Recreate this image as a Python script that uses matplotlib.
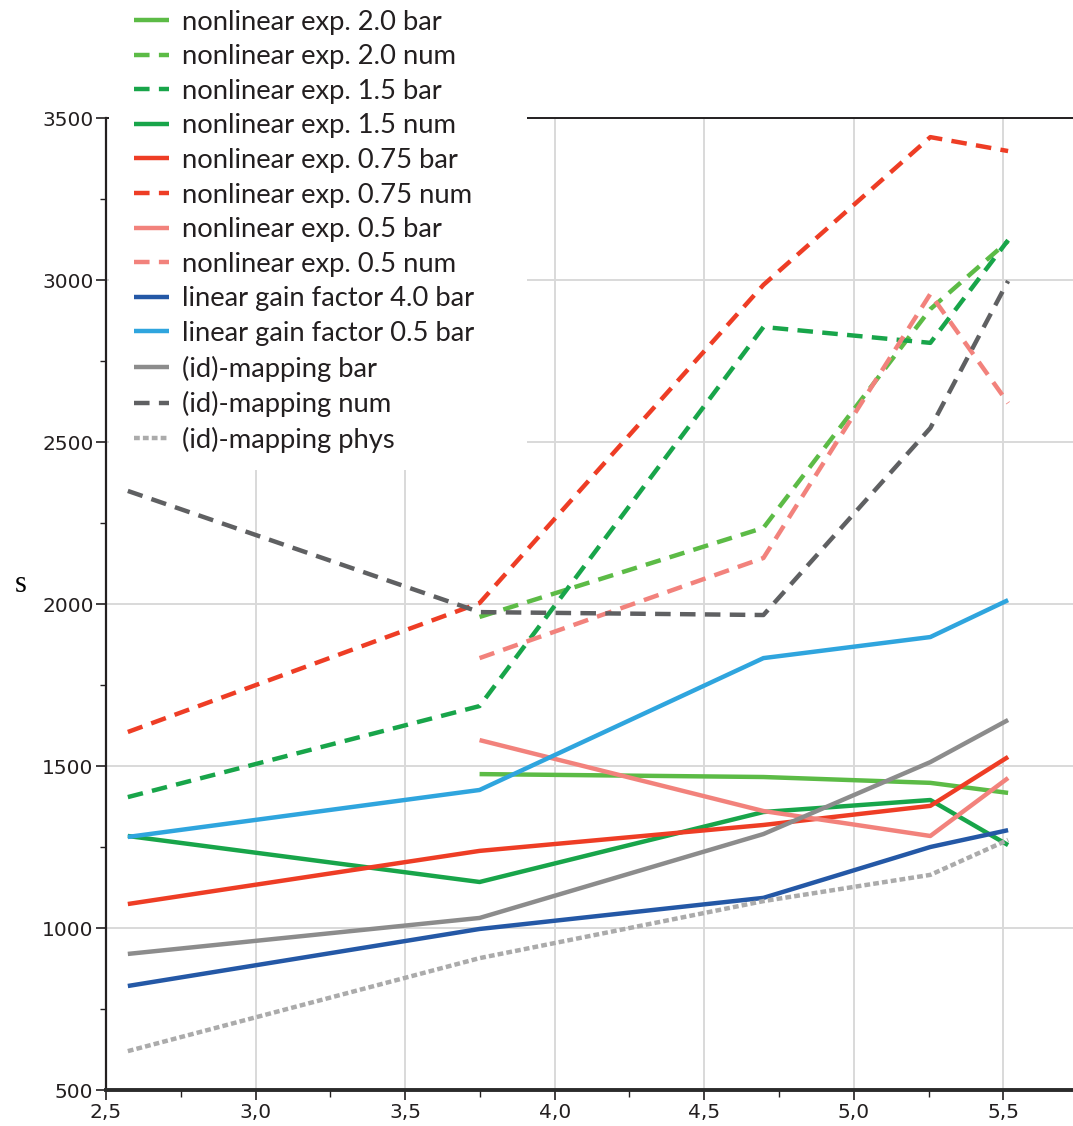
import matplotlib
matplotlib.use("Agg")
import matplotlib.pyplot as plt
from matplotlib.patches import Rectangle
from matplotlib.ticker import MultipleLocator, FixedLocator

# x positions of the measurements
x_all = [2.573, 3.749, 4.698, 5.256, 5.516]
x_late = [3.749, 4.698, 5.256, 5.516]

# series values (s)
nl20_bar = [1475, 1466, 1448, 1417]
nl20_num = [1960, 2235, 2910, 3120]
nl15_bar = [1404, 1685, 2855, 2806, 3123]
nl15_num = [1284, 1142, 1358, 1395, 1256]
nl075_bar = [1074, 1238, 1318, 1377, 1528]
nl075_num = [1605, 2003, 2985, 3441, 3398]
nl05_bar = [1580, 1361, 1284, 1463]
nl05_num = [1833, 2142, 2957, 2620]
lin40_bar = [821, 997, 1093, 1250, 1302]
lin05_bar = [1281, 1426, 1833, 1898, 2012]
id_bar = [920, 1031, 1290, 1512, 1642]
id_num = [2349, 1975, 1966, 2543, 2997]
id_phys = [620, 907, 1083, 1164, 1272]

x_ticks = [2.5, 3.0, 3.5, 4.0, 4.5, 5.0, 5.5]
x_labels = ["2,5", "3,0", "3,5", "4,0", "4,5", "5,0", "5,5"]

DASH = (0, (3.5, 2.1))
DOT = (0, (1.3, 0.7))

series = [
    (x_late, nl20_bar, "nonlinear exp. 2.0 bar", "#5cbb46", "-"),
    (x_late, nl20_num, "nonlinear exp. 2.0 num", "#5cbb46", DASH),
    (x_all, nl15_bar, "nonlinear exp. 1.5 bar", "#18a54a", DASH),
    (x_all, nl15_num, "nonlinear exp. 1.5 num", "#18a54a", "-"),
    (x_all, nl075_bar, "nonlinear exp. 0.75 bar", "#ee3d25", "-"),
    (x_all, nl075_num, "nonlinear exp. 0.75 num", "#ee3d25", DASH),
    (x_late, nl05_bar, "nonlinear exp. 0.5 bar", "#f2827c", "-"),
    (x_late, nl05_num, "nonlinear exp. 0.5 num", "#f2827c", DASH),
    (x_all, lin40_bar, "linear gain factor 4.0 bar", "#2458a6", "-"),
    (x_all, lin05_bar, "linear gain factor 0.5 bar", "#2fa5de", "-"),
    (x_all, id_bar, "(id)-mapping bar", "#8c8c8c", "-"),
    (x_all, id_num, "(id)-mapping num", "#5f6062", DASH),
    (x_all, id_phys, "(id)-mapping phys", "#ababab", DOT),
]


def main():
    W, H = 1073, 1126
    fig = plt.figure(figsize=(W / 100, H / 100), dpi=100)
    ax = fig.add_axes([106 / W, 1 - 1090 / H, 1 - 106 / W, (1090 - 118) / H])

    handles = []
    for xs, ys, label, color, ls in series:
        h, = ax.plot(xs, ys, color=color, linestyle=ls, linewidth=3.2,
                     label=label, solid_capstyle="butt", dash_capstyle="butt")
        handles.append(h)

    ax.set_xlim(2.5, 5.733)
    ax.set_ylim(500, 3500)

    ax.xaxis.set_major_locator(FixedLocator(x_ticks))
    ax.set_xticklabels(x_labels)
    ax.xaxis.set_minor_locator(MultipleLocator(0.25))
    ax.yaxis.set_major_locator(MultipleLocator(500))
    ax.yaxis.set_minor_locator(MultipleLocator(250))

    tick_font = ["Liberation Sans Narrow", "DejaVu Sans"]
    for lab in ax.get_xticklabels() + ax.get_yticklabels():
        lab.set_family(tick_font)
        lab.set_fontsize(14.5)
        lab.set_color("#231f20")

    ax.tick_params(which="major", direction="out", length=7, width=1.2, color="#231f20", pad=2)
    ax.tick_params(which="minor", direction="out", length=5, width=1.0, color="#231f20")
    ax.tick_params(axis="y", which="minor", length=4)

    ax.grid(True, which="major", color="#d9d9d9", linewidth=1.4)
    ax.set_axisbelow(True)

    ax.spines["right"].set_visible(False)
    ax.spines["left"].set_linewidth(1.6)
    ax.spines["left"].set_color("#231f20")
    ax.spines["bottom"].set_linewidth(2.8)
    ax.spines["bottom"].set_color("#2b2b2b")
    ax.spines["top"].set_linewidth(1.4)
    ax.spines["top"].set_color("#231f20")

    ax.set_ylabel("s", family=["Liberation Serif", "DejaVu Serif"], fontsize=22,
                  rotation=0, labelpad=0)
    ax.yaxis.set_label_coords(-0.088, 0.505)

    # white block behind the legend, hiding grid and top border there
    cover = Rectangle((109 / W, 1 - 470 / H), (527 - 109) / W, 470 / H,
                      transform=fig.transFigure, facecolor="white",
                      edgecolor="none", zorder=3)
    fig.patches.append(cover)

    leg = fig.legend(handles=handles, loc="upper left",
                     bbox_to_anchor=(120 / W, 1 + 4 / H),
                     frameon=False, prop={"family": "Lato", "size": 19.7},
                     handlelength=1.3, handletextpad=0.45, labelspacing=0.35,
                     borderpad=0)
    for t in leg.get_texts():
        t.set_color("#231f20")

    fig.savefig("out.png", dpi=100)


if __name__ == "__main__":
    main()
